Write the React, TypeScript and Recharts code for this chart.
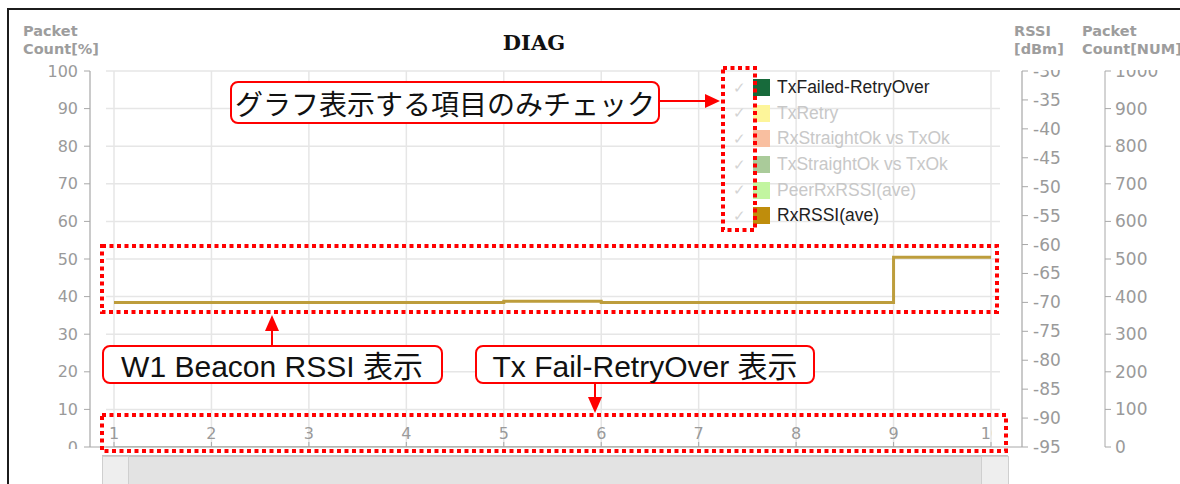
import { ComposedChart, Line, XAxis, YAxis, CartesianGrid, Legend } from 'recharts';

// x positions (sample index) and their tick text
const X_VALUES = [1, 2, 3, 4, 5, 6, 7, 8, 9, 10];
const X_TICK_LABELS = ['1', '2', '3', '4', '5', '6', '7', '8', '9', '10'];

// checked series
const RX_RSSI_AVE = [-70, -70, -70, -70, -69.8, -70, -70, -70, -62.2, -62.2];
const TX_FAILED_RETRY_OVER = [0, 0, 0, 0, 0, 0, 0, 0, 0, 0];

const PCT_TICKS = [0, 10, 20, 30, 40, 50, 60, 70, 80, 90, 100];
const RSSI_TICKS = [-95, -90, -85, -80, -75, -70, -65, -60, -55, -50, -45, -40, -35, -30];
const NUM_TICKS = [0, 100, 200, 300, 400, 500, 600, 700, 800, 900, 1000];

const LEGEND_NAMES = [
  'TxFailed-RetryOver',
  'TxRetry',
  'RxStraightOk vs TxOk',
  'TxStraightOk vs TxOk',
  'PeerRxRSSI(ave)',
  'RxRSSI(ave)',
];
const LEGEND_COLORS = ['#176a3b', '#fdf59a', '#f9bfa0', '#aacb9a', '#c2f5a0', '#bf8d0c'];
const LEGEND_CHECKED = [true, false, false, false, false, true];

const rows = X_VALUES.map((x, i) => ({
  x,
  rxRssi: RX_RSSI_AVE[i],
  txFailed: TX_FAILED_RETRY_OVER[i],
}));

const AXIS_GREY = '#a8a8a8';
const TICK_FONT = { fill: '#9a9a9a', fontSize: 16, fontFamily: 'DejaVu Sans' };
const RED = '#ff0000';

function XTick(props: any) {
  const { x, y, payload, index } = props;
  const label = X_TICK_LABELS[X_VALUES.indexOf(payload.value)];
  const id = `xclip-${index}`;
  return (
    <g>
      <defs>
        <clipPath id={id}>
          <rect x={0} y={y - 30} width={992} height={40} />
        </clipPath>
      </defs>
      <text x={x} y={y} textAnchor="middle" clipPath={`url(#${id})`} {...TICK_FONT}>
        {label}
      </text>
    </g>
  );
}

function LegendBox() {
  return (
    <div style={{ fontFamily: "'Liberation Sans', Arial, sans-serif" }}>
      {LEGEND_NAMES.map((name, i) => (
        <div key={name} style={{ display: 'flex', alignItems: 'center', height: 25.6 }}>
          <span style={{ width: 20, color: '#d4d4d4', fontSize: 15 }}>✓</span>
          <span style={{ width: 17, height: 17, background: LEGEND_COLORS[i], marginRight: 7 }} />
          <span style={{ fontSize: 17.5, color: LEGEND_CHECKED[i] ? '#222' : '#c8c8c8', whiteSpace: 'nowrap' }}>
            {name}
          </span>
        </div>
      ))}
    </div>
  );
}

const axisTitle: React.CSSProperties = {
  position: 'absolute',
  fontFamily: 'DejaVu Sans',
  fontWeight: 'bold',
  fontSize: 14.5,
  lineHeight: '18px',
  color: '#9d9d9d',
  whiteSpace: 'nowrap',
};

const noteText = {
  fontSize: 30,
  fontFamily: "'Liberation Sans', 'Noto Sans CJK JP', sans-serif",
  fill: '#111',
};

export default function App() {
  return (
    <div
      style={{
        position: 'absolute',
        left: 0,
        top: 0,
        width: 1180,
        height: 484,
        overflow: 'hidden',
        background: '#fff',
      }}
    >
      <div
        style={{
          position: 'absolute',
          left: 7,
          top: 8,
          width: 1200,
          height: 520,
          border: '2px solid #1c1c1c',
        }}
      />

      <div style={{ ...axisTitle, left: 23, top: 22 }}>Packet<br />Count[%]</div>
      <div style={{ ...axisTitle, left: 1014, top: 22 }}>RSSI<br />[dBm]</div>
      <div style={{ ...axisTitle, left: 1082, top: 22 }}>Packet<br />Count[NUM]</div>
      <div
        style={{
          position: 'absolute',
          left: 0,
          width: 1068,
          top: 30,
          textAlign: 'center',
          fontFamily: 'DejaVu Serif',
          fontWeight: 'bold',
          fontSize: 21,
          color: '#111',
        }}
      >
        DIAG
      </div>

      <div style={{ position: 'absolute', left: 0, top: 0 }}>
        <ComposedChart width={1180} height={484} data={rows} margin={{ top: 71, right: 0, bottom: 37, left: 0 }}>
          <CartesianGrid
            yAxisId="pct"
            x={106}
            width={894}
            stroke="#e6e6e6"
            strokeWidth={1.5}
          />
          <XAxis
            dataKey="x"
            type="number"
            domain={[1, 10]}
            ticks={X_VALUES}
            padding={{ left: 24, right: 31 }}
            mirror
            height={37}
            tickSize={5}
            tickMargin={3}
            stroke={AXIS_GREY}
            tick={<XTick />}
          />
          <YAxis
            yAxisId="pct"
            orientation="left"
            width={90}
            domain={[0, 100]}
            allowDataOverflow
            ticks={PCT_TICKS}
            tickSize={6}
            tickMargin={6}
            stroke={AXIS_GREY}
            tick={TICK_FONT}
          />
          <YAxis
            yAxisId="dbm"
            orientation="right"
            width={83}
            domain={[-95, -30]}
            allowDataOverflow
            ticks={RSSI_TICKS}
            tickSize={6}
            tickMargin={5}
            stroke={AXIS_GREY}
            tick={{ ...TICK_FONT, fontSize: 17 }}
          />
          <YAxis
            yAxisId="num"
            orientation="right"
            width={75}
            domain={[0, 1000]}
            allowDataOverflow
            ticks={NUM_TICKS}
            tickSize={6}
            tickMargin={4}
            stroke={AXIS_GREY}
            tick={{ ...TICK_FONT, fontSize: 17 }}
          />
          <Legend
            layout="horizontal"
            verticalAlign="middle"
            align="center"
            content={<LegendBox />}
            wrapperStyle={{ left: 733, top: 75, width: 240, height: 160 }}
          />
          <Line
            yAxisId="pct"
            dataKey="txFailed"
            name="TxFailed-RetryOver"
            type="stepAfter"
            stroke={LEGEND_COLORS[0]}
            strokeOpacity={0.35}
            strokeWidth={1.5}
            dot={false}
            isAnimationActive={false}
          />
          <Line
            yAxisId="dbm"
            dataKey="rxRssi"
            name="RxRSSI(ave)"
            type="stepAfter"
            stroke="#bd9d3c"
            strokeWidth={3}
            dot={false}
            isAnimationActive={false}
          />
        </ComposedChart>
      </div>

      {/* clipped label edges */}
      <div style={{ position: 'absolute', left: 1029, top: 59, width: 72, height: 11, background: '#fff' }} />
      <div style={{ position: 'absolute', left: 1113, top: 59, width: 60, height: 11, background: '#fff' }} />
      <div style={{ position: 'absolute', left: 20, top: 449, width: 68, height: 20, background: '#fff' }} />

      {/* navigator scrollbar */}
      <div
        style={{
          position: 'absolute',
          left: 102,
          top: 455,
          width: 906,
          height: 40,
          background: '#e3e3e3',
          borderTop: '2px solid #c4c4c4',
        }}
      />
      <div style={{ position: 'absolute', left: 102, top: 456, width: 25, height: 40, background: '#eeeeee', border: '1px solid #cfcfcf' }} />
      <div style={{ position: 'absolute', left: 981, top: 456, width: 26, height: 40, background: '#eeeeee', border: '1px solid #cfcfcf' }} />

      {/* annotations */}
      <svg width={1180} height={484} style={{ position: 'absolute', left: 0, top: 0, pointerEvents: 'none' }}>
        <g fill="none" stroke={RED} strokeWidth={4} strokeDasharray="4 3.5">
          <rect x={723} y={68} width={32} height={162} />
          <rect x={102} y={246} width={895} height={66} />
          <rect x={102} y={415} width={904} height={36} />
        </g>

        <rect x={231} y={82} width={428} height={41} rx={7} fill="#fff" stroke={RED} strokeWidth={2} />
        <text x={445} y={103} textAnchor="middle" dominantBaseline="central" {...noteText} fontSize={28} fontFamily="'Noto Sans CJK JP', sans-serif">
          グラフ表示する項目のみチェック
        </text>
        <line x1={660} y1={101} x2={706} y2={101} stroke={RED} strokeWidth={2} />
        <polygon points="720,101 705,94 705,108" fill={RED} />

        <rect x={103} y={346} width={339} height={37} rx={7} fill="#fff" stroke={RED} strokeWidth={2} />
        <text x={272} y={366} textAnchor="middle" dominantBaseline="central" {...noteText}>
          W1 Beacon RSSI 表示
        </text>
        <line x1={272} y1={345} x2={272} y2={330} stroke={RED} strokeWidth={2} />
        <polygon points="272,315 265,331 279,331" fill={RED} />

        <rect x={476} y={346} width={338} height={37} rx={7} fill="#fff" stroke={RED} strokeWidth={2} />
        <text x={645} y={366} textAnchor="middle" dominantBaseline="central" {...noteText}>
          Tx Fail-RetryOver 表示
        </text>
        <line x1={595} y1={384} x2={595} y2={398} stroke={RED} strokeWidth={2} />
        <polygon points="595,413 588,397 602,397" fill={RED} />
      </svg>
    </div>
  );
}
